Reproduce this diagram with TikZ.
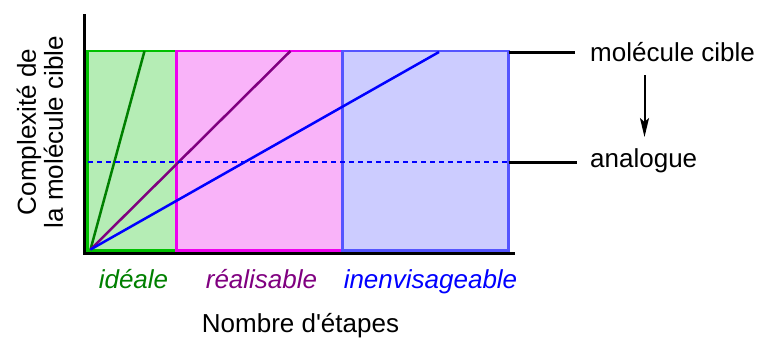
\documentclass[tikz,border=0pt]{standalone}
\usepackage{fontspec}
\setmainfont{Liberation Sans}[Ligatures=TeXOff]
\usetikzlibrary{arrows.meta}
\definecolor{gfill}{RGB}{181,237,181}
\definecolor{gedge}{RGB}{0,192,0}
\definecolor{mfill}{RGB}{249,179,249}
\definecolor{medge}{RGB}{238,0,238}
\definecolor{bfill}{RGB}{204,204,255}
\definecolor{bedge}{RGB}{85,85,255}
\definecolor{dgreen}{RGB}{0,128,0}
\definecolor{dpurple}{RGB}{128,0,128}
\definecolor{dblue}{RGB}{0,0,255}
\tikzset{
  zone/.style={line width=2.5pt},
  trend/.style={line width=2.5pt},
  axisline/.style={line width=3pt, black},
  marker/.style={line width=3pt, black},
  txt/.style={font=\fontsize{26}{27}\selectfont, inner sep=0pt, anchor=base},
}
\begin{document}
\begin{tikzpicture}[x=1pt,y=-1pt]
\useasboundingbox (0,0) rectangle (758,338);
% zones
\draw[zone, fill=gfill, draw=gedge] (87.5,51) rectangle (176.5,250.5);
\draw[zone, fill=mfill, draw=medge] (176.5,51) rectangle (342.5,250.5);
\draw[zone, fill=bfill, draw=bedge] (342.5,51) rectangle (508.5,250.5);
% coordinates
\coordinate (O) at (90.5,249.5);
\coordinate (gtop) at (144.5,51);
\coordinate (ptop) at (290.5,51);
\coordinate (btop) at (439,52);
\coordinate (dl) at (88,162);
\coordinate (dr) at (508.5,162);
\coordinate (tl) at (508.5,52);
\coordinate (tr) at (575,52);
\coordinate (al) at (508.5,162);
\coordinate (ar) at (577,162);
\coordinate (ytop) at (84.5,15);
\coordinate (corner) at (84.5,253.5);
\coordinate (xend) at (513,253.5);
% trends
\draw[trend, dgreen] (O) -- (gtop);
\draw[trend, dpurple] (O) -- (ptop);
\draw[trend, dblue] (O) -- (btop);
\draw[line width=2.4pt, dblue, dash pattern=on 5pt off 4pt] (dl) -- (dr);
% axes
\draw[axisline, line cap=rect] (ytop) -- (corner) -- (xend);
% markers
\draw[marker] (tl) -- (tr);
\draw[marker] (al) -- (ar);
\node[txt, anchor=base west] (mc) at (590,61) {molécule cible};
\node[txt, anchor=base west] (an) at (590,167) {analogue};
\coordinate (a1) at (644.5,75);
\coordinate (a2) at (644.5,137);
\draw[line width=2pt, -{Stealth[length=19pt,width=9pt,inset=4pt]}] (a1) -- (a2);
% labels
\node[txt, text=dgreen, font=\fontsize{26}{27}\selectfont\itshape] (l1) at (133.5,288) {idéale};
\node[txt, text=dpurple, font=\fontsize{26}{27}\selectfont\itshape] (l2) at (261.5,288) {réalisable};
\node[txt, text=dblue, font=\fontsize{26}{27}\selectfont\itshape] (l3) at (430.5,288) {inenvisageable};
\node[txt] (xl) at (300.5,332) {Nombre d'étapes};
\node[font=\fontsize{26}{27}\selectfont, inner sep=0pt, rotate=90, align=center] (yl) at (40,132) {Complexité de\\la molécule cible};
\end{tikzpicture}
\end{document}
